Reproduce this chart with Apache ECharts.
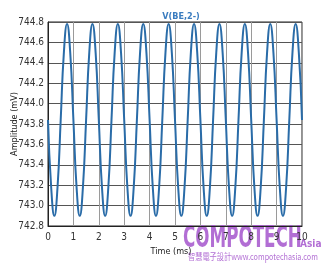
<!DOCTYPE html>
<html><head><meta charset="utf-8">
<script src="https://cdn.jsdelivr.net/npm/echarts@6/dist/echarts.min.js"></script>
<style>html,body{margin:0;padding:0;background:#fff}#c{width:325px;height:267px}</style>
</head><body><div id="c"></div>
<script>
var titleText = 'V(BE,2-)';
var xName = 'Time (ms)';
var yName = 'Amplitude (mV)';
var times = [0,0.125,0.25,0.375,0.5,0.625,0.75,0.875,1,1.125,1.25,1.375,1.5,1.625,1.75,1.875,2,2.125,2.25,2.375,2.5,2.625,2.75,2.875,3,3.125,3.25,3.375,3.5,3.625,3.75,3.875,4,4.125,4.25,4.375,4.5,4.625,4.75,4.875,5,5.125,5.25,5.375,5.5,5.625,5.75,5.875,6,6.125,6.25,6.375,6.5,6.625,6.75,6.875,7,7.125,7.25,7.375,7.5,7.625,7.75,7.875,8,8.125,8.25,8.375,8.5,8.625,8.75,8.875,9,9.125,9.25,9.375,9.5,9.625,9.75,9.875,10];
var amplitude = [743.84,743.18,742.90,743.18,743.84,744.50,744.78,744.50,
743.84,743.18,742.90,743.18,743.84,744.50,744.78,744.50,
743.84,743.18,742.90,743.18,743.84,744.50,744.78,744.50,
743.84,743.18,742.90,743.18,743.84,744.50,744.78,744.50,
743.84,743.18,742.90,743.18,743.84,744.50,744.78,744.50,
743.84,743.18,742.90,743.18,743.84,744.50,744.78,744.50,
743.84,743.18,742.90,743.18,743.84,744.50,744.78,744.50,
743.84,743.18,742.90,743.18,743.84,744.50,744.78,744.50,
743.84,743.18,742.90,743.18,743.84,744.50,744.78,744.50,
743.84,743.18,742.90,743.18,743.84,744.50,744.78,744.50,
743.84];
var data = times.map(function(t,i){return [t, amplitude[i]];});
var chart = echarts.init(document.getElementById('c'));
var ff = '"Liberation Sans Narrow","DejaVu Sans Condensed"';
var wm = 'rgba(165,85,205,0.85)';
chart.setOption({
  animation:false,
  title:{text:titleText,left:176,top:7,textAlign:'center',textStyle:{color:'#3a7cbf',fontSize:9,fontWeight:'bold',fontFamily:ff}},
  grid:{left:48,top:22,right:23,bottom:41,show:true,borderColor:'#222',borderWidth:1,containLabel:false,outerBoundsMode:'none'},
  xAxis:{type:'value',min:0,max:10,interval:1,name:xName,nameLocation:'middle',nameGap:21,nameMoveOverlap:false,
    nameTextStyle:{color:'#222',fontSize:9,fontFamily:ff,padding:[0,8,0,0]},
    axisLine:{lineStyle:{color:'#222'}},axisTick:{show:false},
    axisLabel:{color:'#333',fontSize:10,fontFamily:ff,margin:6},
    splitLine:{show:true,lineStyle:{color:'#9a9a9a',width:1}}},
  yAxis:{type:'value',min:742.8,max:744.8,interval:0.2,name:yName,nameLocation:'middle',nameGap:29,nameMoveOverlap:false,
    nameTextStyle:{color:'#222',fontSize:9,fontFamily:ff},
    axisLine:{show:true,lineStyle:{color:'#222'}},axisTick:{show:false},
    axisLabel:{color:'#333',fontSize:10,fontFamily:ff,margin:4,formatter:function(v){return v.toFixed(1);}},
    splitLine:{show:true,lineStyle:{color:'#555',width:1}}},
  series:[{type:'line',data:data,smooth:0.5,showSymbol:false,clip:true,
    lineStyle:{color:'#2a6ca8',width:2}}],
  graphic:[
    {type:'text',x:183,y:224,scaleX:0.62,style:{text:'COMPOTECH',fill:wm,font:'bold 30px "DejaVu Sans Condensed"'}},
    {type:'text',x:300,y:239,style:{text:'Asia',fill:wm,font:'bold 10px "DejaVu Sans Condensed"'}},
    {type:'text',x:188,y:252,scaleX:0.8,style:{text:'智慧電子設計www.compotechasia.com',fill:wm,font:'9px "Noto Sans CJK TC"'}}
  ]
});
</script></body></html>
